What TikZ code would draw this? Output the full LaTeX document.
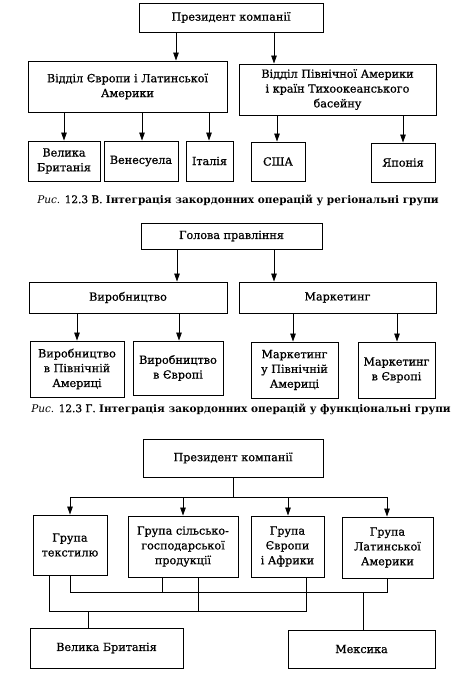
\documentclass[tikz,border=0pt]{standalone}
\usepackage{fontspec}
\setmainfont{DejaVu Serif}
\newfontfamily\bxfont{DejaVu Serif}[FakeBold=0.8]
\usetikzlibrary{arrows.meta}
\begin{document}
\begin{tikzpicture}[x=1pt,y=-1pt,
  box/.style={draw,line width=0.9pt,align=center,inner sep=1pt,font=\bxfont\fontsize{11.2}{14.8}\selectfont},
  arr/.style={line width=0.8pt,-{Triangle[length=8pt,width=5.5pt]}},
  ln/.style={line width=0.8pt},
  captxt/.style={font=\fontsize{10.5}{12}\selectfont}]
\useasboundingbox (0,0) rectangle (469,677);
% ---------- section 1
\node[box,minimum width=184pt,minimum height=29pt] (p1) at (231,17.5) {Президент компанії};
\node[box,minimum width=199pt,minimum height=51pt] (eu) at (127.5,86.5) {Відділ Європи і Латинської\\Америки};
\node[box,minimum width=197pt,minimum height=51pt] (na) at (337.5,89.5) {Відділ Північної Америки\\і країн Тихоокеанського\\басейну};
\node[box,minimum width=72pt,minimum height=40pt] (gb1) at (64,161) {Велика\\Британія};
\node[box,minimum width=74pt,minimum height=40pt] (ven) at (141,161) {Венесуела};
\node[box,minimum width=47pt,minimum height=40pt] (ita) at (209.5,161) {Італія};
\node[box,minimum width=54pt,minimum height=39pt] (usa) at (278,161.5) {США};
\node[box,minimum width=64pt,minimum height=39pt] (jap) at (403,162.5) {Японія};
\draw[arr] (176,0 |- p1.south) -- (176,0 |- eu.north);
\draw[arr] (274,0 |- p1.south) -- (274,0 |- na.north);
\draw[arr] (64,0 |- eu.south) -- (64,0 |- gb1.north);
\draw[arr] (142,0 |- eu.south) -- (142,0 |- ven.north);
\draw[arr] (209,0 |- eu.south) -- (209,0 |- ita.north);
\draw[arr] (277,0 |- na.south) -- (277,0 |- usa.north);
\draw[arr] (403,0 |- na.south) -- (403,0 |- jap.north);
\node[captxt] (c1) at (238,200) {\textit{Рис.} {\bxfont 12.3 В.} \textbf{Інтеграція закордонних операцій у регіональні групи}};
% ---------- section 2
\node[box,minimum width=181pt,minimum height=26pt] (head) at (231.5,236) {Голова правління};
\node[box,minimum width=198pt,minimum height=31pt] (prod) at (128,297.5) {Виробництво};
\node[box,minimum width=197pt,minimum height=31pt] (mkt) at (337.5,297.5) {Маркетинг};
\node[box,minimum width=94pt,minimum height=56pt] (pa) at (77,369) {Виробництво\\в Північній\\Америці};
\node[box,minimum width=90pt,minimum height=54pt] (pe) at (178,368) {Виробництво\\в Європі};
\node[box,minimum width=87pt,minimum height=56pt] (ma) at (294.5,370) {Маркетинг\\у Північній\\Америці};
\node[box,minimum width=77pt,minimum height=56pt] (me) at (396.5,370) {Маркетинг\\в Європі};
\draw[arr] (177,0 |- head.south) -- (177,0 |- prod.north);
\draw[arr] (274,0 |- head.south) -- (274,0 |- mkt.north);
\draw[arr] (77,0 |- prod.south) -- (77,0 |- pa.north);
\draw[arr] (179,0 |- prod.south) -- (179,0 |- pe.north);
\draw[arr] (293,0 |- mkt.south) -- (293,0 |- ma.north);
\draw[arr] (397,0 |- mkt.south) -- (397,0 |- me.north);
\node[captxt] (c2) at (241,409) {\textit{Рис.} {\bxfont 12.3 Г.} \textbf{Інтеграція закордонних операцій у функціональні групи}};
% ---------- section 3
\node[box,minimum width=180pt,minimum height=38pt] (p3) at (233,458) {Президент компанії};
\node[box,minimum width=74pt,minimum height=60pt] (g1) at (70,545) {Група\\текстилю};
\node[box,minimum width=110pt,minimum height=61pt] (g2) at (183,546.5) {Група сільсько-\\господарської\\продукції};
\node[box,minimum width=73pt,minimum height=61pt] (g3) at (287.5,546.5) {Група\\Європи\\і Африки};
\node[box,minimum width=91pt,minimum height=61pt] (g4) at (387.5,547.5) {Група\\Латинської\\Америки};
\node[box,minimum width=153pt,minimum height=40pt] (gb3) at (106.5,648) {Велика Британія};
\node[box,minimum width=147pt,minimum height=38pt] (mex) at (361.5,649) {Мексика};
\coordinate (t) at (233,497);
\coordinate (ul) at (70,592);
\coordinate (ur) at (387,592);
\coordinate (ll) at (49,611);
\coordinate (lr) at (306,611);
\draw[ln] (p3.south) -- (t);
\draw[ln] (70,497) -- (387,497);
\draw[arr] (70,497) -- (70,0 |- g1.north);
\draw[arr] (183,497) -- (183,0 |- g2.north);
\draw[arr] (288,497) -- (288,0 |- g3.north);
\draw[arr] (387,497) -- (387,0 |- g4.north);
% upper bus (to Mexico)
\draw[ln] (70,0 |- g1.south) -- (ul) -- (ur) -- (387,0 |- g4.south);
\draw[ln] (162,0 |- g2.south) -- (162,592);
\draw[ln] (363,592) -- (363,0 |- mex.north);
% lower bus (to Great Britain)
\draw[ln] (49,0 |- g1.south) -- (ll) -- (lr) -- (306,0 |- g3.south);
\draw[ln] (198,0 |- g2.south) -- (198,611);
\draw[ln] (88,611) -- (88,0 |- gb3.north);
\end{tikzpicture}
\end{document}
